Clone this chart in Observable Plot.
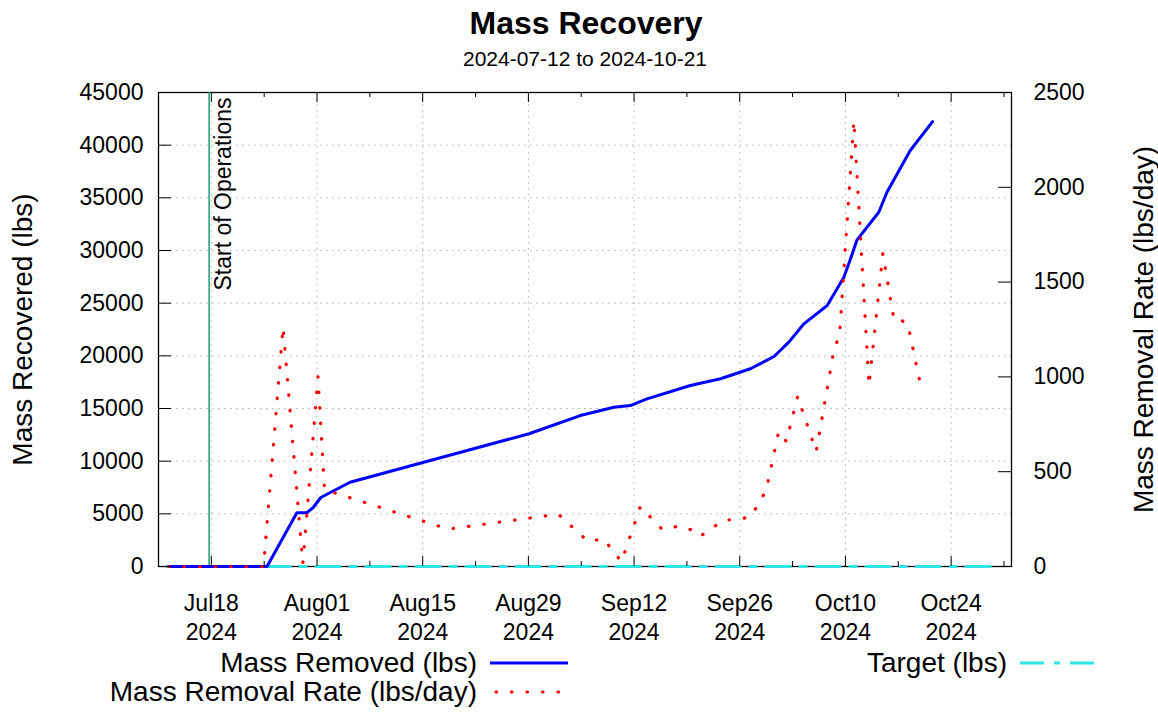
<!DOCTYPE html>
<html>
<head>
<meta charset="utf-8">
<script src="https://cdn.jsdelivr.net/npm/d3@7"></script>
<script src="https://cdn.jsdelivr.net/npm/@observablehq/plot@0.6"></script>
<style>
  body { margin: 0; background: #fff; font-family: "Liberation Sans", Arial, sans-serif; color: #000; }
  #wrap { position: relative; width: 1158px; height: 717px; overflow: hidden; background: #fff; }
  .title { position: absolute; left: 0; width: 1172px; top: 5px; text-align: center; font-weight: bold; font-size: 32px; line-height: 36px; }
  .subtitle { position: absolute; left: 0; width: 1170px; top: 47px; text-align: center; font-size: 21px; line-height: 24px; }
  #chart { position: absolute; left: 0; top: 74px; }
  .lg { position: absolute; font-size: 28px; line-height: 32px; white-space: nowrap; text-align: right; }
  .sw { position: absolute; }
</style>
</head>
<body>
<div id="wrap">
  <div class="title">Mass Recovery</div>
  <div class="subtitle">2024-07-12 to 2024-10-21</div>
  <div id="chart"></div>
  <div class="lg" style="right:681px; top:647px;">Mass Removed (lbs)</div>
  <svg class="sw" style="left:488px; top:655px;" width="84" height="16"><line x1="2" y1="8" x2="80" y2="8" stroke="#0000ff" stroke-width="3"/></svg>
  <div class="lg" style="right:681px; top:676px;">Mass Removal Rate (lbs/day)</div>
  <svg class="sw" style="left:492px; top:684px;" width="70" height="16"><line x1="4" y1="8" x2="68" y2="8" stroke="#ff0000" stroke-width="3.2" stroke-linecap="round" stroke-dasharray="0.5,15"/></svg>
  <div class="lg" style="right:151px; top:647px;">Target (lbs)</div>
  <svg class="sw" style="left:1018px; top:655px;" width="84" height="16"><line x1="2" y1="8" x2="80" y2="8" stroke="#2ee6e6" stroke-width="3" stroke-dasharray="24,10,6,10"/></svg>
</div>
<script>
// ---------------- data ----------------
const massDates = [
  "2024-07-12 08:00","2024-07-25 09:00","2024-07-29 08:00","2024-07-30 15:00","2024-07-31 12:00",
  "2024-08-01 12:00","2024-08-02 17:00","2024-08-05 09:00","2024-08-29 02:00","2024-09-04 21:00",
  "2024-09-09 08:00","2024-09-11 12:00","2024-09-13 17:00","2024-09-19 11:00","2024-09-23 11:00",
  "2024-09-27 10:00","2024-09-30 13:00","2024-10-02 12:00","2024-10-04 12:00","2024-10-07 14:00",
  "2024-10-09 19:00","2024-10-10 16:00","2024-10-11 13:00","2024-10-14 10:00","2024-10-15 12:00",
  "2024-10-18 14:00","2024-10-21 13:00"
];
const massValues = [
  0, 0, 5100, 5100, 5600,
  6550, 7000, 8000, 12600, 14330,
  15120, 15280, 15910, 17180, 17820,
  18770, 19940, 21300, 23040, 24780,
  27460, 29200, 31010, 33630, 35530,
  39490, 42240
];

const rateDates = [
  "2024-07-12 08:00","2024-07-24 22:00","2024-07-27 12:00","2024-07-30 03:00","2024-08-01 03:00",
  "2024-08-02 00:00","2024-08-03 07:00","2024-08-18 09:00","2024-09-01 23:00","2024-09-05 22:00",
  "2024-09-07 23:00","2024-09-10 08:00","2024-09-12 20:00","2024-09-15 18:00","2024-09-17 21:00",
  "2024-09-19 11:00","2024-09-20 17:00","2024-09-23 22:00","2024-09-25 16:00","2024-09-27 12:00",
  "2024-09-29 12:00","2024-10-01 04:00","2024-10-02 04:00","2024-10-03 16:00","2024-10-06 03:00",
  "2024-10-08 13:00","2024-10-09 05:00","2024-10-11 03:00","2024-10-13 03:00","2024-10-14 23:00",
  "2024-10-16 08:00","2024-10-16 21:00","2024-10-17 10:00","2024-10-18 06:00","2024-10-20 03:00"
];
const rateValues = [
  0, 0, 1262, 15, 1000,
  404, 389, 197, 276, 132,
  146, 25, 316, 195, 213,
  195, 158, 246, 246, 264,
  401, 712, 659, 897, 607,
  1155, 1213, 2352, 955, 1651,
  1324, 1287, 1297, 1282, 923
];

const targetDates = ["2024-07-12 00:00", "2024-10-30 08:00"];
const targetValues = [0, 0];

const startOpsDate = "2024-07-17 17:00";
const startOpsLabel = "Start of Operations";

const xDomain = ["2024-07-11 00:00", "2024-11-01 00:00"];
const xMajorTicks = ["2024-07-18","2024-08-01","2024-08-15","2024-08-29","2024-09-12","2024-09-26","2024-10-10","2024-10-24"];
const xMinorTicks = ["2024-07-25","2024-08-08","2024-08-22","2024-09-05","2024-09-19","2024-10-03","2024-10-17","2024-10-31"];
const yTicks = [0, 5000, 10000, 15000, 20000, 25000, 30000, 35000, 40000, 45000];
const rateTicks = [0, 500, 1000, 1500, 2000, 2500];

const yLabel = "Mass Recovered (lbs)";
const y2Label = "Mass Removal Rate (lbs/day)";

// ---------------- build ----------------
const parse = d3.utcParse("%Y-%m-%d %H:%M");
const parseDay = d3.utcParse("%Y-%m-%d");
const mass = massDates.map((d, i) => ({date: parse(d), value: massValues[i]}));
const rate = rateDates.map((d, i) => ({date: parse(d), value: rateValues[i]}));
const target = targetDates.map((d, i) => ({date: parse(d), value: targetValues[i]}));
const startOps = [{date: parse(startOpsDate), label: startOpsLabel}];
const majors = xMajorTicks.map(parseDay);
const minors = xMinorTicks.map(parseDay);

const K = yTicks[yTicks.length - 1] / rateTicks[rateTicks.length - 1]; // right-axis scaling
const rateTicksScaled = rateTicks.map(v => v * K);

const W = 1158, H = 571, ML = 158, MR = 147, MT = 18, MB = 79;
const plotW = W - ML - MR, plotH = H - MT - MB;
const gridStyle = {stroke: "#b0b0b0", strokeOpacity: 1, strokeWidth: 1, strokeDasharray: "1.5,4.5"};

const chart = Plot.plot({
  width: W, height: H,
  marginLeft: ML, marginRight: MR, marginTop: MT, marginBottom: MB,
  style: {fontFamily: '"Liberation Sans", Arial, sans-serif', fontSize: "23px", background: "white", color: "black", overflow: "visible"},
  x: {type: "utc", domain: xDomain.map(parse)},
  y: {domain: [0, yTicks[yTicks.length - 1]]},
  marks: [
    Plot.gridY(yTicks.slice(1, -1), gridStyle),
    Plot.gridX(majors, gridStyle),
    Plot.frame({stroke: "black", strokeWidth: 1.3}),
    Plot.ruleX(startOps, {x: "date", stroke: "#1a9e77", strokeWidth: 1.5}),
    Plot.text(startOps, {x: "date", text: "label", frameAnchor: "top", rotate: -90, textAnchor: "end", lineAnchor: "top", dx: 6, dy: 5, fontSize: 23, fill: "black"}),
    Plot.line(target, {x: "date", y: "value", stroke: "#2ee6e6", strokeWidth: 3, strokeDasharray: "24,10,6,10"}),
    Plot.line(mass, {x: "date", y: "value", stroke: "#0000ff", strokeWidth: 3}),
    Plot.line(rate, {x: "date", y: d => d.value * K, stroke: "#ff0000", strokeWidth: 3.2, strokeLinecap: "round", strokeDasharray: "0.5,15"}),
    // inward tick marks
    Plot.ruleX(majors, {x: d => d, insetTop: plotH - 10, stroke: "black"}),
    Plot.ruleX(majors, {x: d => d, insetBottom: plotH - 10, stroke: "black"}),
    Plot.ruleX(minors, {x: d => d, insetTop: plotH - 5, stroke: "black"}),
    Plot.ruleX(minors, {x: d => d, insetBottom: plotH - 5, stroke: "black"}),
    Plot.tickY(yTicks, {y: d => d, insetRight: plotW - 13, stroke: "black"}),
    Plot.tickY(rateTicksScaled, {y: d => d, insetLeft: plotW - 13, stroke: "black"}),
    // axes
    Plot.axisX(majors, {anchor: "bottom", tickSize: 0, tickPadding: 24, tickFormat: d3.utcFormat("%b%d\n%Y"), lineHeight: 1.27, label: null, fontSize: 23}),
    Plot.axisY(yTicks, {anchor: "left", tickSize: 0, tickPadding: 15, tickFormat: d => String(d), label: null, fontSize: 23}),
    Plot.axisY(rateTicksScaled, {anchor: "right", tickSize: 0, tickPadding: 22, tickFormat: d => String(Math.round(d / K)), label: null, fontSize: 23}),
    // axis titles
    Plot.text([yLabel], {frameAnchor: "left", rotate: -90, textAnchor: "middle", lineAnchor: "top", dx: -146, fontSize: 28, fill: "black"}),
    Plot.text([y2Label], {frameAnchor: "right", rotate: -90, textAnchor: "middle", lineAnchor: "bottom", dx: 141, fontSize: 28, fill: "black"})
  ]
});
document.getElementById("chart").appendChild(chart);
</script>
</body>
</html>
